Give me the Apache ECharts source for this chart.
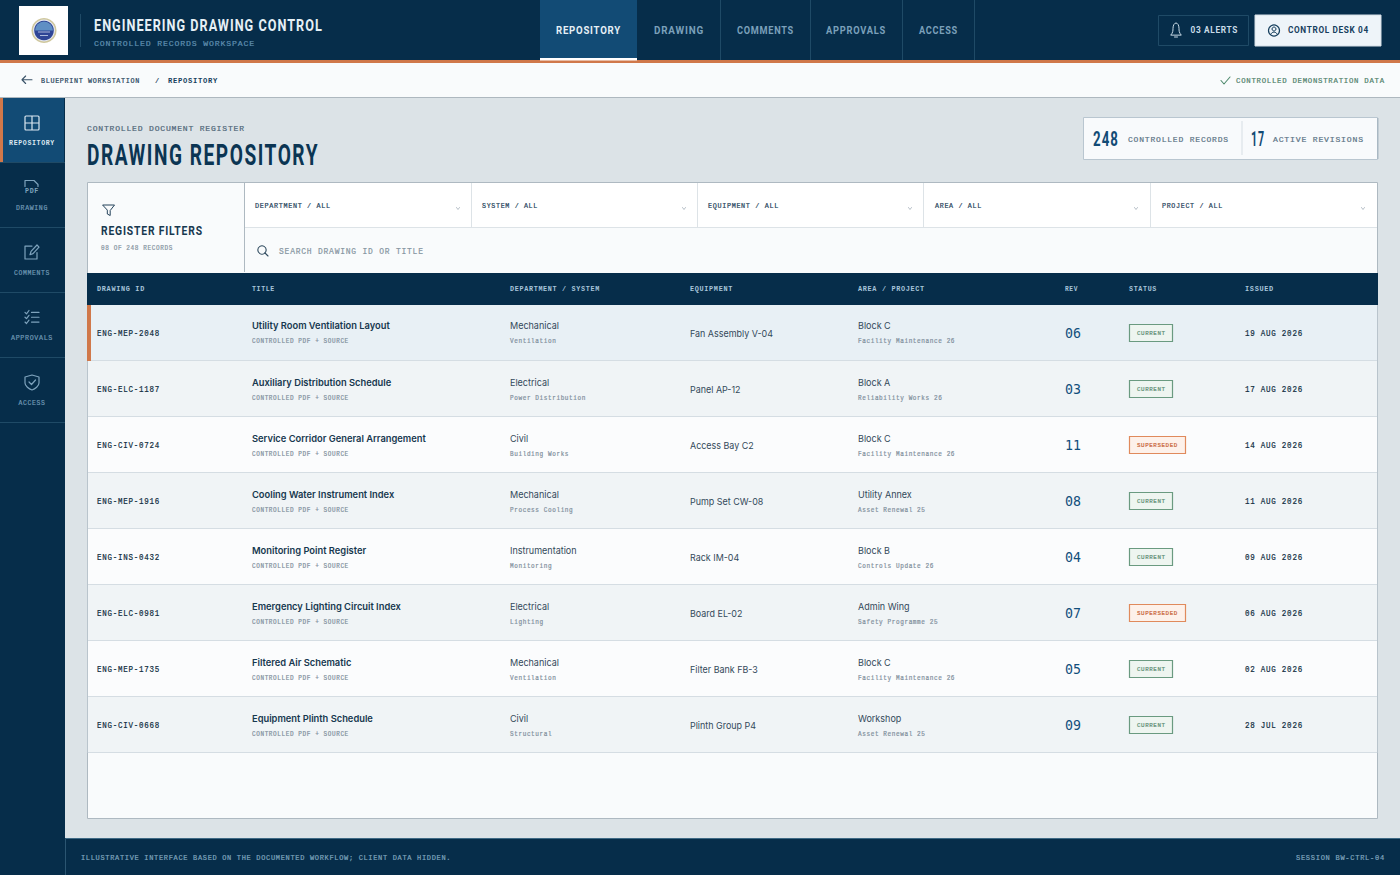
<!DOCTYPE html>
<html>
<head>
<meta charset="utf-8">
<title>Drawing Repository</title>
<style>
  html, body { margin: 0; padding: 0; background: #dce3e7; }
  #main { width: 1400px; height: 875px; }
  text[style*="Liberation Mono"] { letter-spacing: .1em; }
  text[style*="Roboto"] { letter-spacing: .08em; }
</style>
<script src="https://cdn.jsdelivr.net/npm/echarts@6/dist/echarts.min.js"></script>
</head>
<body>
<div id="main"></div>
<script>
// register rows
var drawingIds = ['ENG-MEP-2048', 'ENG-ELC-1187', 'ENG-CIV-0724', 'ENG-MEP-1916', 'ENG-INS-0432', 'ENG-ELC-0981', 'ENG-MEP-1735', 'ENG-CIV-0668'];
var titles = ['Utility Room Ventilation Layout', 'Auxiliary Distribution Schedule', 'Service Corridor General Arrangement', 'Cooling Water Instrument Index', 'Monitoring Point Register', 'Emergency Lighting Circuit Index', 'Filtered Air Schematic', 'Equipment Plinth Schedule'];
var departments = ['Mechanical', 'Electrical', 'Civil', 'Mechanical', 'Instrumentation', 'Electrical', 'Mechanical', 'Civil'];
var systems = ['Ventilation', 'Power Distribution', 'Building Works', 'Process Cooling', 'Monitoring', 'Lighting', 'Ventilation', 'Structural'];
var equipment = ['Fan Assembly V-04', 'Panel AP-12', 'Access Bay C2', 'Pump Set CW-08', 'Rack IM-04', 'Board EL-02', 'Filter Bank FB-3', 'Plinth Group P4'];
var areas = ['Block C', 'Block A', 'Block C', 'Utility Annex', 'Block B', 'Admin Wing', 'Block C', 'Workshop'];
var projects = ['Facility Maintenance 26', 'Reliability Works 26', 'Facility Maintenance 26', 'Asset Renewal 25', 'Controls Update 26', 'Safety Programme 25', 'Facility Maintenance 26', 'Asset Renewal 25'];
var revisions = ['06', '03', '11', '08', '04', '07', '05', '09'];
var statuses = ['CURRENT', 'CURRENT', 'SUPERSEDED', 'CURRENT', 'CURRENT', 'SUPERSEDED', 'CURRENT', 'CURRENT'];
var issued = ['19 AUG 2026', '17 AUG 2026', '14 AUG 2026', '11 AUG 2026', '09 AUG 2026', '06 AUG 2026', '02 AUG 2026', '28 JUL 2026'];
var documentType = 'CONTROLLED PDF + SOURCE';

// labels around the table
var topTabs = ['REPOSITORY', 'DRAWING', 'COMMENTS', 'APPROVALS', 'ACCESS'];
var sideItems = ['REPOSITORY', 'DRAWING', 'COMMENTS', 'APPROVALS', 'ACCESS'];
var filterLabels = ['DEPARTMENT / ALL', 'SYSTEM / ALL', 'EQUIPMENT / ALL', 'AREA / ALL', 'PROJECT / ALL'];
var tableHeads = ['DRAWING ID', 'TITLE', 'DEPARTMENT / SYSTEM', 'EQUIPMENT', 'AREA / PROJECT', 'REV', 'STATUS', 'ISSUED'];

var NAVY = '#062d4a', BLUE = '#124b75', ORANGE = '#d0784a', MONO = '"Liberation Mono"', NARROW = 'Roboto', SANS = 'Inter';

var measureCtx = document.createElement('canvas').getContext('2d');
// width with the letter spacing set in the page css
function textWidth(text, font) {
  measureCtx.font = font;
  var size = parseFloat(font.match(/([\d.]+)px/)[1]);
  var em = font.indexOf('Liberation Mono') >= 0 ? 0.1 : (font.indexOf('Roboto') >= 0 ? 0.08 : 0);
  return measureCtx.measureText(text).width + text.length * em * size;
}

// the thin mono regular gets a hairline stroke to reach the weight of the reference
function textStyle(text, font, fill, align) {
  var st = { text: text, x: 0, y: 0, font: font, fill: fill, textAlign: align || 'left', textVerticalAlign: 'middle' };
  if (font.indexOf('Liberation Mono') >= 0 && font.indexOf('bold') < 0) {
    st.stroke = fill;
    st.lineWidth = 0.2;
  }
  return st;
}

// text squeezed or stretched to the width it has in the reference
function label(text, x, y, font, fill, width, align) {
  return {
    type: 'text', x: x, y: y + (font.indexOf('Mono') >= 0 ? 0.6 : 0), silent: true,
    scaleX: width ? width / textWidth(text, font) : 1,
    style: textStyle(text, font, fill, align)
  };
}

function box(x, y, w, h, fill, stroke) {
  return { type: 'rect', silent: true, shape: { x: x, y: y, width: w, height: h }, style: { fill: fill || 'none', stroke: stroke || 'none', lineWidth: 1 } };
}

function icon(d, x, y, w, h, stroke, lw, fill) {
  return {
    type: 'path', silent: true,
    shape: { pathData: d, x: x, y: y, width: w, height: h, layout: 'cover' },
    style: { fill: fill || 'none', stroke: stroke, lineWidth: lw || 1.2, lineJoin: 'round', lineCap: 'round' }
  };
}

function circle(cx, cy, r, fill, stroke, lw) {
  return { type: 'circle', silent: true, shape: { cx: cx, cy: cy, r: r }, style: { fill: fill || 'none', stroke: stroke || 'none', lineWidth: lw || 1 } };
}

var els = [];
var icons = [];

// page frame
els.push(box(0, 0, 1400, 60, NAVY));
els.push(box(0, 60, 1400, 3, ORANGE));
els.push(box(0, 63, 1400, 34, '#f9fbfc'));
els.push(box(0, 97, 1400, 1, '#aeb8bf'));
els.push(box(0, 98, 65, 777, NAVY));
els.push(box(65, 838, 1335, 37, NAVY));
els.push(box(65, 838, 1335, 1, '#3f6a85'));
els.push(box(65, 838, 1, 37, '#2b5571'));

// logo
els.push(box(19, 6, 49, 49, '#ffffff'));
els.push(circle(44, 30.5, 12.5, '#cfc79c'));
els.push(circle(44, 30.5, 11, '#e2e5ee'));
els.push(circle(44, 30.5, 9.8, '#2f4596'));
els.push({ type: 'sector', silent: true, shape: { cx: 44, cy: 30.5, r: 9, r0: 0, startAngle: Math.PI, endAngle: Math.PI * 2 }, style: { fill: '#5f8fc4' } });
els.push(box(38, 31.5, 12, 1, '#aebbdc'));
els.push(box(40, 35, 8, 1, '#aebbdc'));

// brand
els.push(box(80, 14, 1, 33, '#1f4a66'));
els.push(label('ENGINEERING DRAWING CONTROL', 94, 26, 'bold 16px ' + NARROW, '#e6f0f6', 229));
els.push(label('CONTROLLED RECORDS WORKSPACE', 94, 43, '7.5px ' + MONO, '#5f8fb0', 161));

// top tabs
var tabX = [556, 654, 737, 826, 919];
var tabW = [65, 50, 57, 60, 39];
els.push(box(540, 0, 97, 58, BLUE));
els.push(box(540, 58, 97, 2.5, '#ffffff'));
[720, 810, 902, 974].forEach(function(x) { els.push(box(x, 0, 1, 60, '#1f4a66')); });
topTabs.forEach(function(t, i) {
  els.push(label(t, tabX[i], 30.2, 'bold 10px ' + NARROW, i === 0 ? '#e6f0f6' : '#7ba0ba', tabW[i]));
});

// header buttons
els.push(box(1158.5, 15.5, 90, 30, 'none', '#1f4a66'));
icons.push(icon('M1 11C3 9 3 7 3 5C3 2 4.5 0 6 0C7.5 0 9 2 9 5C9 7 9 9 11 11ZM4.5 13H7.5', 1171, 23, 10, 14, '#c9dbe7', 1));
els.push(label('03 ALERTS', 1190.5, 30.2, 'bold 9px ' + NARROW, '#c9dbe7', 47.5));
els.push(box(1255, 15, 126, 31, '#eef4f9', '#d5dfe6'));
els.push(circle(1274, 30.5, 5.5, 'none', '#17405e', 1.2));
els.push(circle(1274, 29, 2, 'none', '#17405e', 1));
icons.push(icon('M0 3C1 0 5 0 6 3', 1271, 32, 6, 2, '#17405e', 1));
els.push(label('CONTROL DESK 04', 1288, 30.2, 'bold 9px ' + NARROW, '#17405e', 81));

// breadcrumb
icons.push(icon('M4 0L0 4L4 8M0 4H11', 22, 76, 10, 7.5, '#3a5368', 1.1));
els.push(label('BLUEPRINT WORKSTATION', 41, 80, '7px ' + MONO, '#24425a', 99));
els.push(label('/', 155, 80, '7px ' + MONO, '#24425a'));
els.push(label('REPOSITORY', 168, 80, 'bold 7px ' + MONO, '#17405e', 50));
icons.push(icon('M0 4L3 8L9 0', 1221, 77, 9, 7, '#4f8a6d', 1.1));
els.push(label('CONTROLLED DEMONSTRATION DATA', 1236, 80, '7.5px ' + MONO, '#4f7f6a', 149));

// sidebar
var sideW = [46, 32, 36, 42, 27];
var sideIcons = [
  ['M1 0H13Q14 0 14 1V13Q14 14 13 14H1Q0 14 0 13V1Q0 0 1 0ZM7 0V14M0 7H14', 25, 116, 14, 14],
  ['M0 6V0H9L13 4V6', 25, 180.5, 13, 6],
  ['M12 7V13H0V1H7M5 9L6 6L12 0L14 2L8 8Z', 25, 245, 14, 14],
  ['M0 2L1.5 3.5L4 0M0 7L1.5 8.5L4 5M0 12L1.5 13.5L4 10M6.5 2H14M6.5 7H14M6.5 12H14', 25, 310.5, 14, 13],
  ['M7 0L14 2V8C14 11 10 14 7 15C4 14 0 11 0 8V2ZM4 7L6.5 9.5L10.5 5', 25, 375, 14, 15]
];
els.push(box(3, 98, 61, 64, BLUE));
els.push(box(0, 98, 3, 64, ORANGE));
sideItems.forEach(function(t, i) {
  var top = 98 + i * 65;
  els.push(box(0, top + 64, 65, 1, '#1f4a66'));
  var ic = sideIcons[i];
  icons.push(icon(ic[0], ic[1], ic[2], ic[3], ic[4], i === 0 ? '#dbe8f1' : '#7ea3bd', 1.2));
  els.push(label(t, 32, top + 45, (i === 0 ? 'bold ' : '') + '6.5px ' + MONO, i === 0 ? '#dbe8f1' : '#6f98b4', sideW[i], 'center'));
});
els.push(label('PDF', 32, 190.5, 'bold 6.5px ' + MONO, '#7ea3bd', 14, 'center'));

// page title and counters
els.push(label('CONTROLLED DOCUMENT REGISTER', 87, 128, '8px ' + MONO, '#4f6678', 158));
els.push(label('DRAWING REPOSITORY', 87, 154.5, 'bold 30px ' + NARROW, '#0b3553', 232));
els.push(box(1083.5, 117.5, 294, 42, '#f8fafc', '#b9c6d0'));
els.push(box(1377, 118, 1.5, 41, '#a9b8c3'));
els.push(box(1241.5, 121, 1, 34, '#d5dde3'));
els.push(label('248', 1093, 139, 'bold 21px ' + NARROW, BLUE, 26));
els.push(label('CONTROLLED RECORDS', 1128, 139, '8px ' + MONO, '#5b7385', 101));
els.push(label('17', 1251, 139, 'bold 21px ' + NARROW, BLUE, 14));
els.push(label('ACTIVE REVISIONS', 1273, 139, '8px ' + MONO, '#5b7385', 91));

// register panel with filters
els.push(box(87.5, 182.5, 1290, 636, '#f9fbfc', '#aeb9c1'));
els.push(box(88, 183, 156, 89, '#f9fbfc'));
els.push(box(244, 183, 1, 89, '#aeb9c1'));
els.push(box(245, 183, 1132, 44, '#ffffff'));
els.push(box(245, 227, 1132, 1, '#dde3e7'));
[471, 697, 923, 1150].forEach(function(x) { els.push(box(x, 183, 1, 44, '#dde3e7')); });
var filterX = [255, 482, 708, 935, 1162];
var filterW = [76, 56, 71, 47, 61];
var chevronX = [458, 684, 910, 1136, 1363];
filterLabels.forEach(function(t, i) {
  els.push(label(t, filterX[i], 205, '7px ' + MONO, '#24425a', filterW[i]));
  icons.push(icon('M0 0L1.5 2L3 0', chevronX[i] - 1.5, 207.5, 3, 2, '#98a5b0', 0.7));
});
icons.push(icon('M0 0H12L7.5 5.5V10.5L4.5 9V5.5Z', 103, 205, 11.5, 10.5, '#24425a', 1));
els.push(label('REGISTER FILTERS', 101, 230.5, 'bold 13px ' + NARROW, '#17384f', 102));
els.push(label('08 OF 248 RECORDS', 101, 248, '6.5px ' + MONO, '#8594a1', 72));
els.push(circle(262, 250, 4.2, 'none', '#2f4a5e', 1.1));
icons.push(icon('M0 0L3 3', 265, 253, 3, 3, '#2f4a5e', 1.1));
els.push(label('SEARCH DRAWING ID OR TITLE', 279, 250.5, '8.5px ' + MONO, '#8796a2', 145));

// table head
els.push(box(87, 273, 1291, 32, NAVY));
var headX = [97, 252, 510, 690, 858, 1065, 1129, 1245];
var headW = [48, 23, 90, 43, 67, 13, 28, 29];
tableHeads.forEach(function(t, i) {
  els.push(label(t, headX[i], 288.5, 'bold 6.5px ' + MONO, '#a8c5da', headW[i]));
});

// footer
els.push(label('ILLUSTRATIVE INTERFACE BASED ON THE DOCUMENTED WORKFLOW; CLIENT DATA HIDDEN.', 81, 857, '7px ' + MONO, '#7fa4bd', 371));
els.push(label('SESSION BW-CTRL-04', 1296, 857, '7px ' + MONO, '#7fa4bd', 89));

// horizontal scale of each row text style, taken from one sample in the reference
function fit(sample, font, width) { return { font: font, k: width / textWidth(sample, font) }; }
var fId = fit('ENG-MEP-2048', '8.5px ' + MONO, 63);
var fTitle = fit('Utility Room Ventilation Layout', '600 9.5px ' + SANS, 138);
var fSub = fit(documentType, '6.5px ' + MONO, 97);
var fDept = fit('Mechanical', '9.5px ' + SANS, 49);
var fMono = fit('Power Distribution', '6.5px ' + MONO, 76);
var fEquip = fit('Fan Assembly V-04', '9.5px ' + SANS, 83);
var fRev = fit('06', '13.5px "DejaVu Sans Mono"', 16);
var fDate = fit('19 AUG 2026', '8.5px ' + MONO, 58);
var fBadge = fit('SUPERSEDED', '6px ' + MONO, 41);

function cell(text, x, y, f, fill) {
  return {
    type: 'text', x: x, y: y, scaleX: f.k, silent: true,
    style: textStyle(text, f.font, fill)
  };
}

// column starts along the hidden x axis of the table
var colId = 10, colTitle = 165, colDept = 423, colEquip = 603, colArea = 771, colRev = 978, colStatus = 1042, colDate = 1158, tableWidth = 1291;

function renderRow(params, api) {
  var i = api.value(1);
  var mid = api.coord([0, i]);
  var h = api.size([0, 1])[1];
  var x0 = mid[0], top = mid[1] - h / 2, y = mid[1];
  var w = api.size([tableWidth, 0])[0];
  var X = function(c) { return api.coord([c, i])[0]; };
  var fillRow = i === 0 ? '#e8f0f5' : (i % 2 ? '#f0f4f6' : '#fbfcfd');
  var sup = statuses[i] === 'SUPERSEDED';
  var d = i === 0 ? -1 : 0;
  var kids = [
    { type: 'rect', silent: true, shape: { x: x0, y: top, width: w, height: h }, style: { fill: fillRow } },
    { type: 'rect', silent: true, shape: { x: x0, y: top + h - 1, width: w, height: 1 }, style: { fill: '#d5dde3' } },
    { type: 'rect', silent: true, shape: { x: x0, y: top, width: 1, height: h }, style: { fill: '#b9c4cc' } },
    { type: 'rect', silent: true, shape: { x: x0 + w - 1, y: top, width: 1, height: h }, style: { fill: '#b9c4cc' } },
    cell(drawingIds[i], X(colId), y + 0.5, fId, '#0f2c40'),
    cell(titles[i], X(colTitle), y - 6.5 + d, fTitle, '#17384f'),
    cell(documentType, X(colTitle), y + 9.2 + d * 0.5, fSub, '#7f8f9c'),
    cell(departments[i], X(colDept), y - 6.5 + d, fDept, '#33495a'),
    cell(systems[i], X(colDept), y + 9.2 + d * 0.5, fMono, '#7f8f9c'),
    cell(equipment[i], X(colEquip), y, fEquip, '#33495a'),
    cell(areas[i], X(colArea), y - 6.5 + d, fDept, '#33495a'),
    cell(projects[i], X(colArea), y + 9.2 + d * 0.5, fMono, '#7f8f9c'),
    cell(revisions[i], X(colRev), y + 0.5, fRev, '#124f7c'),
    { type: 'rect', silent: true, shape: { x: X(colStatus) + 0.5, y: y - 8.5, width: sup ? 56 : 43, height: 17 }, style: { fill: sup ? '#fdf1ea' : '#eef5f0', stroke: sup ? '#e08a5c' : '#6a9a80', lineWidth: 1.2 } },
    cell(statuses[i], X(colStatus) + 8, y + 0.5, fBadge, sup ? '#c9663a' : '#5f8f75'),
    cell(issued[i], X(colDate), y + 0.5, fDate, '#0f2c40')
  ];
  if (i === 0) {
    kids.push({ type: 'rect', silent: true, shape: { x: x0, y: top, width: 4, height: h }, style: { fill: ORANGE } });
  }
  return { type: 'group', children: kids };
}

var chart = echarts.init(document.getElementById('main'), null, { renderer: 'svg', width: 1400, height: 875 });
chart.setOption({
  animation: false,
  backgroundColor: '#dce3e7',
  graphic: { elements: els },
  grid: { left: 87, top: 305, width: tableWidth, height: 448 },
  xAxis: { type: 'value', min: 0, max: tableWidth, show: false },
  yAxis: { type: 'category', inverse: true, data: drawingIds, show: false },
  series: [{
    type: 'custom',
    coordinateSystem: 'cartesian2d',
    renderItem: renderRow,
    clip: false,
    silent: true,
    encode: { x: 0, y: 1 },
    data: drawingIds.map(function(id, i) { return [0, i]; })
  }, {
    // line icons, the graphic component has no path element
    type: 'custom',
    coordinateSystem: 'none',
    silent: true,
    z: 5,
    renderItem: function() { return { type: 'group', children: icons }; },
    data: [0]
  }]
});
</script>
</body>
</html>
